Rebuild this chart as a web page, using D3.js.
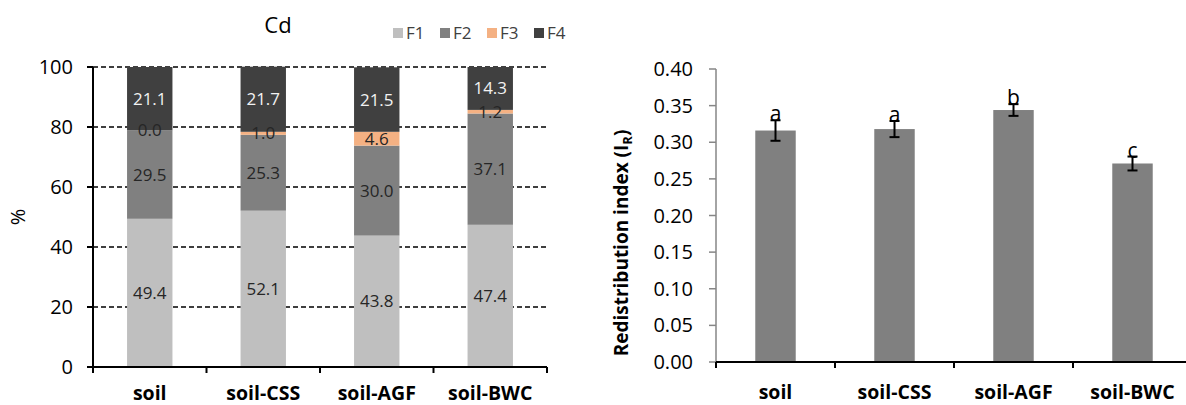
<!DOCTYPE html>
<html>
<head>
<meta charset="utf-8">
<script src="https://cdn.jsdelivr.net/npm/d3@7"></script>
<style>
  body { margin: 0; background: #fff; }
  text { font-family: "Open Sans", sans-serif; }
</style>
</head>
<body>
<div class="chart"></div>
<script>
// data
const categories = ["soil", "soil-CSS", "soil-AGF", "soil-BWC"];
const fractions = ["F1", "F2", "F3", "F4"];
const f1 = [49.4, 52.1, 43.8, 47.4];
const f2 = [29.5, 25.3, 30.0, 37.1];
const f3 = [0.0, 1.0, 4.6, 1.2];
const f4 = [21.1, 21.7, 21.5, 14.3];
const pctTicks = [0, 20, 40, 60, 80, 100];

const ir = [0.316, 0.318, 0.344, 0.271];
const irErr = [0.014, 0.011, 0.008, 0.0095];
const irLetters = ["a", "a", "b", "c"];
const irTicks = [0, 0.05, 0.10, 0.15, 0.20, 0.25, 0.30, 0.35, 0.40];

const colors = {F1: "#bfbfbf", F2: "#808080", F3: "#f4b183", F4: "#404040"};

const width = 1186;
const height = 405;
const svg = d3.select('.chart')
    .append('svg')
    .attr('width', width)
    .attr('height', height);

// ---------- left: stacked fractions ----------
const x1 = d3.scaleBand().domain(categories).range([93, 547])
    .paddingInner(0.6).paddingOuter(0.3);
const y1 = d3.scaleLinear().domain([0, 100]).range([367, 67]);

// gridlines
svg.selectAll(".grid1")
    .data(pctTicks.filter(d => d > 0))
    .enter()
    .append("line")
    .attr("x1", 93)
    .attr("x2", 547)
    .attr("y1", d => y1(d))
    .attr("y2", d => y1(d))
    .attr("stroke", "#000")
    .attr("stroke-width", 1.5)
    .attr("stroke-dasharray", "5,3");

const rows = categories.map((c, i) => ({cat: c, F1: f1[i], F2: f2[i], F3: f3[i], F4: f4[i]}));
const stack = d3.stack().keys(fractions)(rows);

const layer = svg.selectAll(".layer")
    .data(stack)
    .enter()
    .append("g")
    .attr("fill", d => colors[d.key]);

layer.selectAll("rect")
    .data(d => d)
    .enter()
    .append("rect")
    .attr("x", d => x1(d.data.cat))
    .attr("y", d => y1(d[1]))
    .attr("width", x1.bandwidth())
    .attr("height", d => y1(d[0]) - y1(d[1]));

stack.forEach(s => {
    svg.selectAll(".lbl-" + s.key)
        .data(s)
        .enter()
        .append("text")
        .attr("x", d => x1(d.data.cat) + x1.bandwidth() / 2)
        .attr("y", d => (y1(d[0]) + y1(d[1])) / 2)
        .attr("dy", "0.35em")
        .attr("text-anchor", "middle")
        .attr("font-size", 17)
        .attr("fill", s.key === "F4" ? "#f2f2f2" : "#262626")
        .text(d => d.data[s.key].toFixed(1));
});

// y axis
svg.append("line")
    .attr("x1", 93).attr("x2", 93)
    .attr("y1", y1(100)).attr("y2", y1(0))
    .attr("stroke", "#000").attr("stroke-width", 2);
svg.selectAll(".ytick1")
    .data(pctTicks)
    .enter()
    .append("line")
    .attr("x1", 87).attr("x2", 93)
    .attr("y1", d => y1(d)).attr("y2", d => y1(d))
    .attr("stroke", "#000").attr("stroke-width", 2);
svg.selectAll(".ylab1")
    .data(pctTicks)
    .enter()
    .append("text")
    .attr("x", 73)
    .attr("y", d => y1(d))
    .attr("dy", "0.35em")
    .attr("text-anchor", "end")
    .attr("font-size", 20)
    .attr("fill", "#000")
    .text(d => d);

// x axis
svg.append("line")
    .attr("x1", 93).attr("x2", 547)
    .attr("y1", y1(0)).attr("y2", y1(0))
    .attr("stroke", "#000").attr("stroke-width", 2);
const step1 = x1.step();
svg.selectAll(".xtick1")
    .data(d3.range(categories.length + 1))
    .enter()
    .append("line")
    .attr("x1", i => 93 + i * step1).attr("x2", i => 93 + i * step1)
    .attr("y1", y1(0)).attr("y2", y1(0) + 6)
    .attr("stroke", "#000").attr("stroke-width", 2);
svg.selectAll(".xlab1")
    .data(categories)
    .enter()
    .append("text")
    .attr("x", d => x1(d) + x1.bandwidth() / 2)
    .attr("y", 400)
    .attr("text-anchor", "middle")
    .attr("font-size", 19.5)
    .attr("font-weight", "bold")
    .attr("fill", "#000")
    .text(d => d);

svg.append("text")
    .attr("transform", "translate(25,217) rotate(-90)")
    .attr("text-anchor", "middle")
    .attr("font-size", 20)
    .text("%");

svg.append("text")
    .attr("x", 278).attr("y", 33)
    .attr("text-anchor", "middle")
    .attr("font-size", 22)
    .text("Cd");

// legend
const leg = svg.selectAll(".leg")
    .data(fractions)
    .enter()
    .append("g")
    .attr("transform", (d, i) => "translate(" + (393 + i * 47) + ",33)");
leg.append("rect")
    .attr("x", 0).attr("y", -5)
    .attr("width", 10).attr("height", 10)
    .attr("fill", d => colors[d]);
leg.append("text")
    .attr("x", 13).attr("y", 0)
    .attr("dy", "0.35em")
    .attr("font-size", 17)
    .attr("fill", "#404040")
    .text(d => d);

// ---------- right: redistribution index ----------
const x2 = d3.scaleBand().domain(categories).range([716, 1192])
    .paddingInner(0.66).paddingOuter(0.33);
const y2 = d3.scaleLinear().domain([0, 0.40]).range([362, 69]);

svg.selectAll(".bar2")
    .data(ir)
    .enter()
    .append("rect")
    .attr("x", (d, i) => x2(categories[i]))
    .attr("y", d => y2(d))
    .attr("width", x2.bandwidth())
    .attr("height", d => y2(0) - y2(d))
    .attr("fill", "#808080");

// error bars
const eb = svg.selectAll(".err")
    .data(ir)
    .enter()
    .append("g")
    .attr("stroke", "#000")
    .attr("stroke-width", 2);
eb.append("line")
    .attr("x1", (d, i) => x2(categories[i]) + x2.bandwidth() / 2)
    .attr("x2", (d, i) => x2(categories[i]) + x2.bandwidth() / 2)
    .attr("y1", (d, i) => y2(d + irErr[i]))
    .attr("y2", (d, i) => y2(d - irErr[i]));
eb.append("line")
    .attr("x1", (d, i) => x2(categories[i]) + x2.bandwidth() / 2 - 5)
    .attr("x2", (d, i) => x2(categories[i]) + x2.bandwidth() / 2 + 5)
    .attr("y1", (d, i) => y2(d + irErr[i]))
    .attr("y2", (d, i) => y2(d + irErr[i]));
eb.append("line")
    .attr("x1", (d, i) => x2(categories[i]) + x2.bandwidth() / 2 - 5)
    .attr("x2", (d, i) => x2(categories[i]) + x2.bandwidth() / 2 + 5)
    .attr("y1", (d, i) => y2(d - irErr[i]))
    .attr("y2", (d, i) => y2(d - irErr[i]));

svg.selectAll(".letter")
    .data(irLetters)
    .enter()
    .append("text")
    .attr("x", (d, i) => x2(categories[i]) + x2.bandwidth() / 2)
    .attr("y", (d, i) => y2(ir[i] + irErr[i]) + 1)
    .attr("text-anchor", "middle")
    .attr("font-size", 21)
    .attr("fill", "#000")
    .text(d => d);

// y axis (gray)
svg.append("line")
    .attr("x1", 716).attr("x2", 716)
    .attr("y1", y2(0.40)).attr("y2", y2(0))
    .attr("stroke", "#868686").attr("stroke-width", 1.5);
svg.selectAll(".ytick2")
    .data(irTicks)
    .enter()
    .append("line")
    .attr("x1", 709).attr("x2", 716)
    .attr("y1", d => y2(d)).attr("y2", d => y2(d))
    .attr("stroke", "#868686").attr("stroke-width", 1.5);
svg.selectAll(".ylab2")
    .data(irTicks)
    .enter()
    .append("text")
    .attr("x", 693)
    .attr("y", d => y2(d))
    .attr("dy", "0.35em")
    .attr("text-anchor", "end")
    .attr("font-size", 20)
    .attr("fill", "#000")
    .text(d => d.toFixed(2));

// x axis
svg.append("line")
    .attr("x1", 716).attr("x2", 1192)
    .attr("y1", y2(0)).attr("y2", y2(0))
    .attr("stroke", "#000").attr("stroke-width", 2);
const step2 = x2.step();
svg.selectAll(".xtick2")
    .data(d3.range(categories.length + 1))
    .enter()
    .append("line")
    .attr("x1", i => 716 + i * step2).attr("x2", i => 716 + i * step2)
    .attr("y1", y2(0)).attr("y2", y2(0) + 6)
    .attr("stroke", "#000").attr("stroke-width", 2);
svg.selectAll(".xlab2")
    .data(categories)
    .enter()
    .append("text")
    .attr("x", d => x2(d) + x2.bandwidth() / 2)
    .attr("y", 399)
    .attr("text-anchor", "middle")
    .attr("font-size", 19.5)
    .attr("font-weight", "bold")
    .attr("fill", "#000")
    .text(d => d);

const yt = svg.append("text")
    .attr("transform", "translate(628,243) rotate(-90)")
    .attr("text-anchor", "middle")
    .attr("font-size", 19)
    .attr("font-weight", "bold")
    .attr("fill", "#000");
yt.append("tspan").text("Redistribution index (I");
yt.append("tspan").attr("font-size", 13).attr("dy", 4).text("R");
yt.append("tspan").attr("dy", -4).text(")");
</script>
</body>
</html>
